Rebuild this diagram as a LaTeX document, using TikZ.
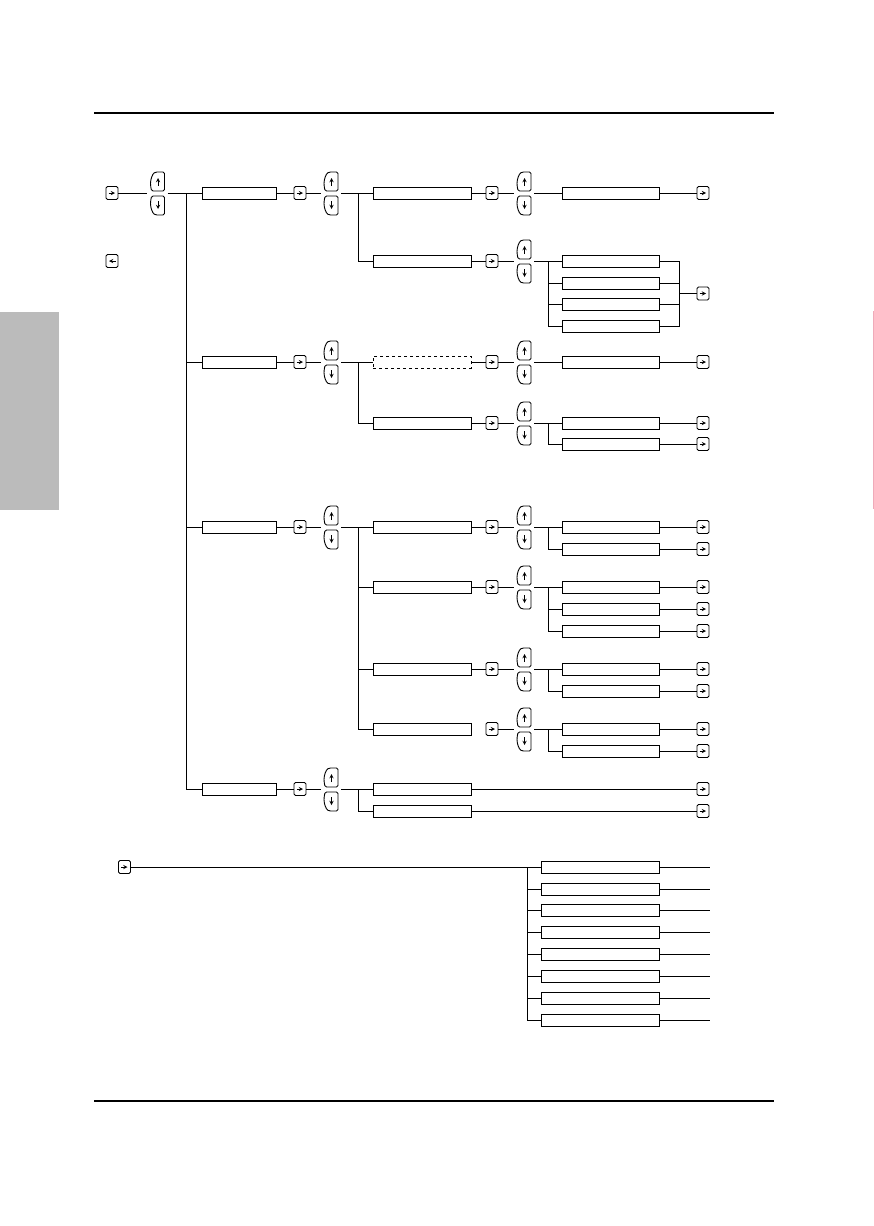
\documentclass[tikz,border=0pt]{standalone}
\usetikzlibrary{arrows}

\definecolor{tabgray}{RGB}{187,187,187}
\definecolor{edgepink}{RGB}{240,170,185}

\tikzset{
  wire/.style={line width=0.8pt},
  menubox/.style={draw, line width=0.9pt, minimum height=12pt, inner sep=0pt},
  enterkey/.style={draw, line width=0.9pt, rounded corners=1.5pt, minimum width=12pt, minimum height=13pt, inner sep=0pt},
  keyhold/.style={minimum width=20pt, minimum height=44pt, inner sep=0pt},
  keyline/.style={line width=0.9pt, rounded corners=1.5pt},
  keyarrow/.style={line width=0.9pt, -stealth},
}

% enter key: name, x, y
\newcommand\keyenter[3]{%
  \node[enterkey] (#1) at (#2,#3) {};
  \draw[keyarrow] (#2-3.5,#3) -- (#2+3,#3);
}
% back key: name, x, y
\newcommand\keyback[3]{%
  \node[enterkey] (#1) at (#2,#3) {};
  \draw[keyarrow] (#2+3.5,#3) -- (#2-3,#3);
}
% up and down keys: name, x, y
\newcommand\keyupdown[3]{%
  \node[keyhold] (#1) at (#2,#3) {};
  \draw[keyline] (#2+7,#3-2) -- (#2+7,#3-21) -- (#2-2,#3-21)
    .. controls (#2-5,#3-19) and (#2-7,#3-14) .. (#2-7,#3-8) -- (#2-6,#3-2) -- cycle;
  \draw[keyline] (#2+7,#3+3) -- (#2+7,#3+22) -- (#2-2,#3+22)
    .. controls (#2-5,#3+20) and (#2-7,#3+15) .. (#2-7,#3+9) -- (#2-6,#3+3) -- cycle;
  \draw[keyarrow] (#2+0.5,#3-7) -- (#2+0.5,#3-15);
  \draw[keyarrow] (#2+0.5,#3+8) -- (#2+0.5,#3+16);
}

\begin{document}
\begin{tikzpicture}[x=1pt,y=-1pt]
\useasboundingbox (0,0) rectangle (874,1226);

% page
\fill[tabgray] (0,312) rectangle (59,510);
\draw[edgepink, line width=0.8pt] (873,311) -- (873,509);
\draw[line width=1.1pt] (94,113) -- (774,113);
\draw[line width=1.1pt] (94,1101) -- (774,1101);

% first level
\keyenter{e0}{112}{193}
\keyback{bk}{112}{261}
\keyupdown{ud0}{157.5}{193}
\coordinate (s0) at (186,193);
\draw[wire] (e0) -- (ud0);
\draw[wire] (ud0) -- (s0);

\foreach \n/\y in {1/193,2/362,3/527,4/789} {
  \node[menubox, minimum width=74pt] (b\n) at (239.5,\y) {};
  \keyenter{e\n}{300}{\y}
  \keyupdown{ud\n}{331}{\y}
  \coordinate (s\n) at (358,\y);
  \draw[wire] (s0) |- (b\n);
  \draw[wire] (b\n) -- (e\n) -- (ud\n);
  \draw[wire] (ud\n) -- (s\n);
}

% second level
\foreach \k/\y in {11/193,12/261,22/423,31/527,32/587,33/669,34/729,41/789,42/811} {
  \node[menubox, minimum width=98pt] (c\k) at (422,\y) {};
}
\node[menubox, dashed, minimum width=98pt] (c21) at (422,362) {};
\foreach \k in {11,12,21,22,31,32,33,34,41,42} {
  \pgfmathtruncatemacro\g{\k/10}
  \draw[wire] (s\g) |- (c\k);
}

\foreach \k/\y in {11/193,12/261,21/362,22/423,31/527,32/587,33/669,34/729} {
  \keyenter{f\k}{492}{\y}
  \keyupdown{v\k}{524}{\y}
  \coordinate (t\k) at (548,\y);
  \draw[wire] (f\k) -- (v\k);
  \draw[wire] (v\k) -- (t\k);
}
\foreach \k in {11,12,21,22,31,32,33} {
  \draw[wire] (c\k) -- (f\k);
}

% third level
\foreach \k/\i/\y in {11/1/193,12/1/261,12/2/283,12/3/304,12/4/326,21/1/362,22/1/423,22/2/444,
    31/1/527,31/2/549,32/1/587,32/2/609,32/3/631,33/1/669,33/2/691,34/1/729,34/2/751} {
  \node[menubox, minimum width=97pt] (d\k\i) at (610.5,\y) {};
  \draw[wire] (t\k) |- (d\k\i);
}
\foreach \k/\i/\y in {11/1/193,21/1/362,22/1/423,22/2/444,31/1/527,31/2/549,
    32/1/587,32/2/609,32/3/631,33/1/669,33/2/691,34/1/729,34/2/751} {
  \keyenter{x\k\i}{703}{\y}
  \draw[wire] (d\k\i) -- (x\k\i);
}
\coordinate (r12) at (679,293.5);
\keyenter{x12}{703}{293.5}
\foreach \i in {1,...,4} {
  \draw[wire] (d12\i) -| (r12);
}
\draw[wire] (r12) -- (x12);

\foreach \i/\y in {1/789,2/811} {
  \keyenter{x4\i}{703}{\y}
  \draw[wire] (c4\i) -- (x4\i);
}

% second menu
\keyenter{m0}{124.5}{867}
\coordinate (u0) at (527,867);
\draw[wire] (m0) -- (u0);
\foreach \i/\y in {1/867,2/889,3/910,4/932,5/954,6/976,7/998,8/1020} {
  \node[menubox, minimum width=118pt] (g\i) at (600,\y) {};
  \coordinate (w\i) at (710,\y);
  \draw[wire] (u0) |- (g\i) -- (w\i);
}
\end{tikzpicture}
\end{document}
